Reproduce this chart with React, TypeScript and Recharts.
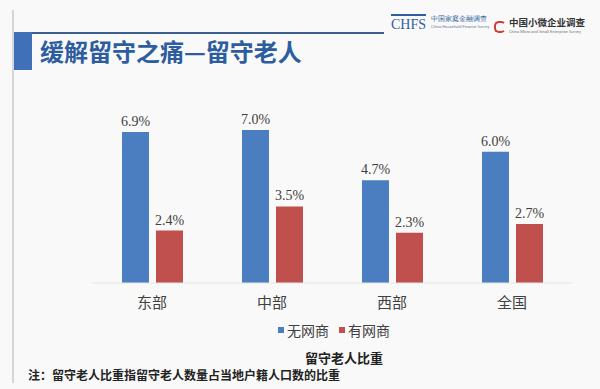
import { BarChart, Bar, XAxis, YAxis, LabelList } from 'recharts';

const REGIONS = ['东部', '中部', '西部', '全国'];
const NO_ECOM = [6.9, 7.0, 4.7, 6.0];
const WITH_ECOM = [2.4, 3.5, 2.3, 2.7];
const SERIES_NAMES = ['无网商', '有网商'];

const BLUE = '#4a7ec0';
const RED = '#c0504d';
const TITLE_BLUE = '#2d5d9f';
const TEXT = '#404040';
const CJK = '"Noto Sans CJK SC", "Noto Sans", sans-serif';
const SERIF = '"Liberation Serif", "DejaVu Serif", serif';

const chartData = REGIONS.map((name, i) => ({
  name,
  none: NO_ECOM[i],
  some: WITH_ECOM[i],
}));

function fmtPct(v: any) {
  return `${Number(v).toFixed(1)}%`;
}

function LegendBox() {
  const items = [
    { label: SERIES_NAMES[0], color: BLUE },
    { label: SERIES_NAMES[1], color: RED },
  ];
  return (
    <div style={{ display: 'flex', fontFamily: CJK, fontSize: 14, color: TEXT, lineHeight: '18px' }}>
      {items.map((it) => (
        <div key={it.label} style={{ display: 'flex', alignItems: 'center', marginRight: 10 }}>
          <span style={{ width: 6, height: 6, background: it.color, display: 'inline-block', marginRight: 3 }} />
          <span>{it.label}</span>
        </div>
      ))}
    </div>
  );
}

export default function App() {
  return (
    <div
      style={{
        position: 'absolute',
        left: 0,
        top: 0,
        width: 600,
        height: 389,
        overflow: 'hidden',
        background: '#f9f9f9',
        fontFamily: CJK,
      }}
    >
      {/* left rule */}
      <div style={{ position: 'absolute', left: 12, top: 10, width: 2, height: 373, background: '#d6d6d6' }} />
      {/* title bar */}
      <div style={{ position: 'absolute', left: 14, top: 32, width: 18, height: 38, background: '#3f70b8' }} />
      <div style={{ position: 'absolute', left: 32, top: 32, width: 352, height: 2, background: '#3b5f8f' }} />
      <div
        style={{
          position: 'absolute',
          left: 40,
          top: 35,
          fontSize: 24,
          fontWeight: 700,
          color: TITLE_BLUE,
          whiteSpace: 'nowrap',
          lineHeight: '32px',
        }}
      >
        缓解留守之痛—留守老人
      </div>

      {/* logos */}
      <div style={{ position: 'absolute', left: 391, top: 14, display: 'flex', alignItems: 'center' }}>
        <div style={{ fontFamily: SERIF, fontSize: 14, color: '#2f5f9e', lineHeight: '15px', borderTop: '2px solid #2f5f9e', paddingTop: 1 }}>
          CHFS
        </div>
        <div style={{ marginLeft: 5, lineHeight: '8px' }}>
          <div style={{ fontSize: 7, color: '#2f5f9e', fontFamily: SERIF }}>中国家庭金融调查</div>
          <div style={{ fontSize: 4, color: '#6f7f9f', fontFamily: 'Roboto, sans-serif' }}>China Household Finance Survey</div>
        </div>
      </div>
      <div style={{ position: 'absolute', left: 494, top: 17, display: 'flex', alignItems: 'center' }}>
        <div
          style={{
            width: 8,
            height: 8,
            borderRadius: 5,
            border: '2px solid #d23a35',
            borderRightColor: 'transparent',
          }}
        />
        <div style={{ marginLeft: 3, lineHeight: '10px' }}>
          <div style={{ fontSize: 9.5, color: '#333', fontWeight: 700 }}>中国小微企业调查</div>
          <div style={{ fontSize: 4, color: '#777', fontFamily: 'Roboto, sans-serif' }}>China Micro and Small Enterprise Survey</div>
        </div>
      </div>

      <div style={{ position: 'absolute', left: 0, top: 0 }}>
        <BarChart
          width={600}
          height={389}
          data={chartData}
          margin={{ top: 108, right: 28, bottom: 76, left: 92 }}
          barSize={27}
          barGap={7}
        >
          <XAxis
            dataKey="name"
            height={30}
            axisLine={{ stroke: '#e4e4e4' }}
            tickLine={false}
            tick={{ fontSize: 15, fill: TEXT, fontFamily: CJK }}
            dy={6}
          />
          <YAxis hide domain={[0, 8]} />
          <Bar dataKey="none" name={SERIES_NAMES[0]} fill={BLUE} isAnimationActive={false}>
            <LabelList
              dataKey="none"
              position="top"
              offset={6}
              formatter={fmtPct}
              style={{ fontSize: 14, fill: TEXT, fontFamily: SERIF }}
            />
          </Bar>
          <Bar dataKey="some" name={SERIES_NAMES[1]} fill={RED} isAnimationActive={false}>
            <LabelList
              dataKey="some"
              position="top"
              offset={6}
              formatter={fmtPct}
              style={{ fontSize: 14, fill: TEXT, fontFamily: SERIF }}
            />
          </Bar>
        </BarChart>
      </div>

      <div style={{ position: 'absolute', left: 278, top: 321 }}>
        <LegendBox />
      </div>

      <div
        style={{
          position: 'absolute',
          left: 305,
          top: 349,
          fontSize: 13,
          fontWeight: 700,
          color: '#222',
          whiteSpace: 'nowrap',
          lineHeight: '18px',
        }}
      >
        留守老人比重
      </div>
      <div
        style={{
          position: 'absolute',
          left: 28,
          top: 367,
          fontSize: 12,
          fontWeight: 700,
          color: '#222',
          whiteSpace: 'nowrap',
          lineHeight: '16px',
        }}
      >
        注：留守老人比重指留守老人数量占当地户籍人口数的比重
      </div>
    </div>
  );
}
